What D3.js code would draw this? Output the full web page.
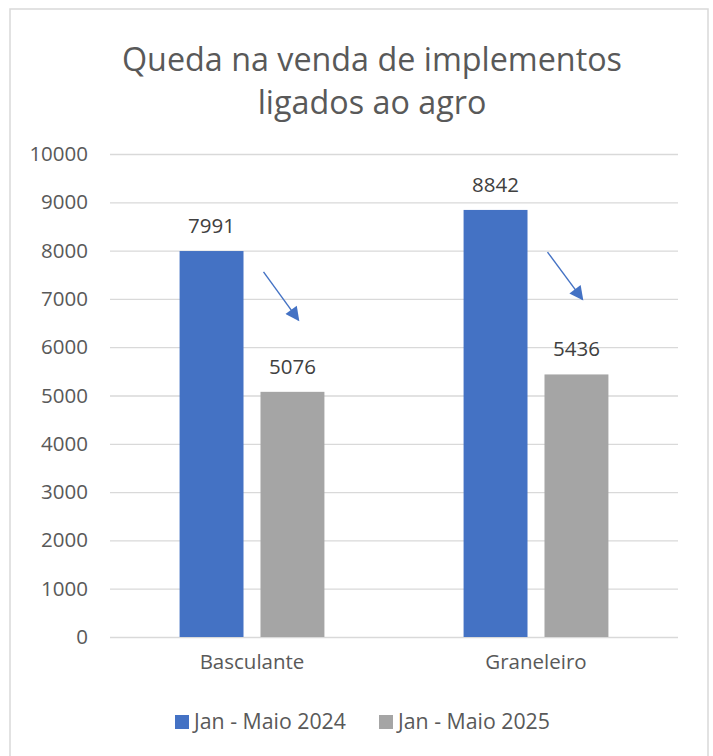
<!DOCTYPE html>
<html><head><meta charset="utf-8">
<script src="https://cdn.jsdelivr.net/npm/d3@7"></script>
<style>body{margin:0;background:#fff;} svg{display:block;}</style>
</head><body>
<script>
const title = ["Queda na venda de implementos", "ligados ao agro"];
const categories = ["Basculante", "Graneleiro"];
const seriesNames = ["Jan - Maio 2024", "Jan - Maio 2025"];
const values2024 = [7991, 8842];
const values2025 = [5076, 5436];
const colors = ["#4472C4", "#A5A5A5"];
const yTicks = [0,1000,2000,3000,4000,5000,6000,7000,8000,9000,10000];
// decline arrows (start/end values, drawn between the two bars of each category)
const arrowStart = [7560, 7970];
const arrowEnd = [6560, 6990];

(function(){
const W = 713, H = 756;
const font = "'Open Sans', sans-serif";
const txt = "#595959";
const fs = 20.5;
const svg = d3.select("body").append("svg").attr("width", W).attr("height", H);

svg.append("rect").attr("x", 10).attr("y", 9).attr("width", 698).attr("height", H)
  .attr("fill", "#fff").attr("stroke", "#D9D9D9").attr("stroke-width", 1.5);

const pl = 110, pr = 678, pt = 154, pb = 637;
const y = d3.scaleLinear().domain([0, 10000]).range([pb, pt]);
const x0 = d3.scaleBand().domain(categories).range([pl, pr]).paddingInner(0.49).paddingOuter(0.245);
const x1 = d3.scaleBand().domain(seriesNames).range([0, x0.bandwidth()]).paddingInner(0.21);

// title
svg.append("text").attr("font-family", font).attr("font-size", 32.3).attr("font-weight", 400).attr("fill", txt)
  .attr("text-anchor", "middle")
  .selectAll("tspan").data(title).join("tspan")
  .attr("x", 372).attr("y", (d, i) => 71 + i * 43).text(d => d);

// grid
const yAxis = d3.axisLeft(y).tickValues(yTicks).tickFormat(d3.format("d")).tickSize(-(pr - pl)).tickPadding(22);
const gy = svg.append("g").attr("transform", `translate(${pl},0)`).call(yAxis);
gy.select(".domain").remove();
gy.selectAll(".tick line").attr("stroke", "#D9D9D9").attr("stroke-width", 1.3);
gy.selectAll(".tick text").attr("font-family", font).attr("font-size", fs).attr("fill", txt);

// x axis labels
const xAxis = d3.axisBottom(x0).tickSize(0).tickPadding(17);
const gx = svg.append("g").attr("transform", `translate(0,${pb})`).call(xAxis);
gx.select(".domain").remove();
gx.selectAll(".tick text").attr("font-family", font).attr("font-size", fs).attr("fill", txt);

const rows = categories.map((c, i) => ({cat: c, vals: [values2024[i], values2025[i]]}));
const groups = svg.append("g").selectAll("g").data(rows).join("g")
  .attr("transform", d => `translate(${x0(d.cat)},0)`);
groups.selectAll("rect").data(d => d.vals.map((v, j) => ({v, s: seriesNames[j], j}))).join("rect")
  .attr("x", d => x1(d.s)).attr("width", x1.bandwidth())
  .attr("y", d => y(d.v)).attr("height", d => y(0) - y(d.v))
  .attr("fill", d => colors[d.j]);
groups.selectAll("text").data(d => d.vals.map((v, j) => ({v, s: seriesNames[j], j}))).join("text")
  .attr("x", d => x1(d.s) + x1.bandwidth() / 2).attr("y", d => y(d.v) - 18)
  .attr("text-anchor", "middle").attr("font-family", font).attr("font-size", fs).attr("fill", "#404040")
  .text(d => d.v);

// arrows
const defs = svg.append("defs");
defs.append("marker").attr("id", "ah").attr("viewBox", "0 0 10 10").attr("refX", 9).attr("refY", 5)
  .attr("markerWidth", 11).attr("markerHeight", 10).attr("orient", "auto")
  .append("path").attr("d", "M0,0 L10,5 L0,10 z").attr("fill", "#4472C4");
categories.forEach((c, i) => {
  const gapMid = x0(c) + x1(seriesNames[0]) + x1.bandwidth();
  svg.append("line")
    .attr("x1", gapMid + 20).attr("y1", y(arrowStart[i]))
    .attr("x2", gapMid + 55).attr("y2", y(arrowEnd[i]))
    .attr("stroke", "#4472C4").attr("stroke-width", 1.4).attr("marker-end", "url(#ah)");
});

// legend
const lg = svg.append("g").attr("transform", "translate(175,722)");
const lx = [0, 204];
seriesNames.forEach((s, i) => {
  lg.append("rect").attr("x", lx[i]).attr("y", -7).attr("width", 14).attr("height", 14).attr("fill", colors[i]);
  lg.append("text").attr("x", lx[i] + 19).attr("y", 7).attr("font-family", font).attr("font-size", 21.3)
    .attr("fill", txt).text(s);
});
})();
</script>
</body></html>
